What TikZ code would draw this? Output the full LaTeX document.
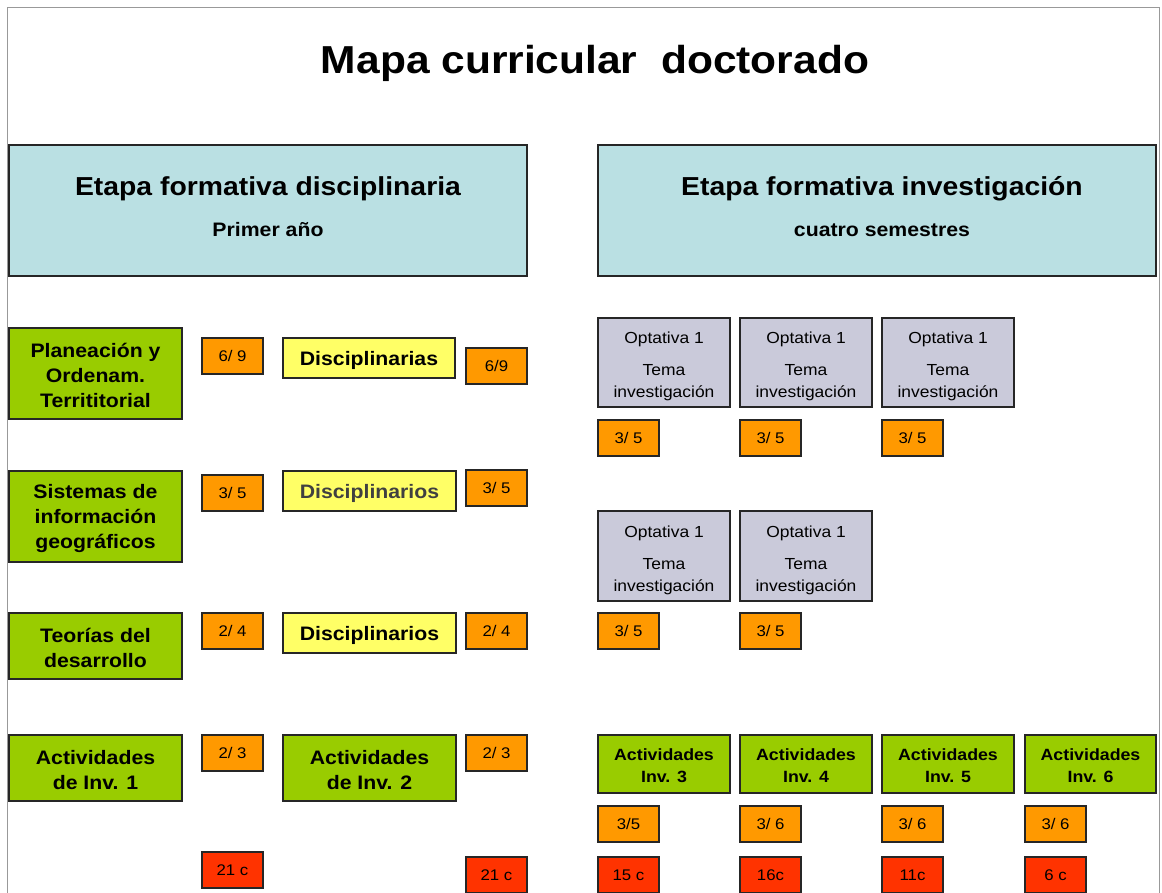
\documentclass[tikz,border=0pt]{standalone}
\usepackage{fontspec}
\setmainfont[FakeStretch=1.09]{Liberation Sans}
\definecolor{cgreen}{HTML}{99CC00}
\definecolor{corange}{HTML}{FF9900}
\definecolor{cred}{HTML}{FF3300}
\definecolor{cyellow}{HTML}{FFFF66}
\definecolor{clav}{HTML}{CACADA}
\definecolor{cblue}{HTML}{BAE0E3}
\newcommand\fsz[2]{\fontsize{#1}{#2}\selectfont}
\newcommand\mkbox[8]{\node[#1, minimum width={(#6)-(#4)}, minimum height={(#7)-(#5)}] (#3) at ({((#4)+(#6))/2},{((#5)+(#7))/2}) {};
  \node[lbl, #2] (#3-t) at (#3.center) {#8};}
\tikzset{
  base/.style={draw=black!85, line width=1.3pt, inner sep=0pt},
  lbl/.style={inner sep=0pt, align=center},
  hdrbox/.style={base, fill=cblue},
  grnbox/.style={base, fill=cgreen},
  yelbox/.style={base, fill=cyellow},
  orbox/.style={base, fill=corange},
  redbox/.style={base, fill=cred},
  optbox/.style={base, fill=clav},
  grnT/.style={font=\bfseries\fsz{19.5}{25}, yshift=-2},
  grnsmT/.style={font=\bfseries\fsz{16.3}{22}, yshift=-2},
  yelT/.style={font=\bfseries\fsz{19.5}{24}, yshift=-2},
  smallT/.style={font=\fsz{15.4}{18}},
  optT/.style={font=\fsz{16}{22}, yshift=-4},
  txt/.style={anchor=base, inner sep=0pt}
}
\begin{document}
\begin{tikzpicture}[x=1pt,y=-1pt]
\useasboundingbox (0,0) rectangle (1162,892);
\clip (0,0) rectangle (1162,892);
\fill[white] (0,0) rectangle (1162,892);
% frame
\coordinate (f1) at (7.5,895);
\coordinate (f2) at (7.5,7.5);
\coordinate (f3) at (1159.5,7.5);
\coordinate (f4) at (1159.5,895);
\draw[black!40, line width=1.5pt] (f1) -- (f2) -- (f3) -- (f4);
% title
\node[txt, font=\bfseries\fsz{39}{46}] (title) at (595,73) {Mapa curricular\ \ doctorado};
% headers
\mkbox{hdrbox}{}{hdrL}{9}{145}{527}{276}{}
\mkbox{hdrbox}{}{hdrR}{598}{145}{1156}{276}{}
\node[txt, font=\bfseries\fsz{26}{30}] (hdrLt) at (268,195) {Etapa formativa disciplinaria};
\node[txt, font=\bfseries\fsz{19.5}{24}] (hdrLs) at (268,236.5) {Primer año};
\node[txt, font=\bfseries\fsz{26}{30}] (hdrRt) at (882,195) {Etapa formativa investigación};
\node[txt, font=\bfseries\fsz{19.5}{24}] (hdrRs) at (882,236.5) {cuatro semestres};
% left column
\mkbox{grnbox}{grnT}{g1}{9}{328}{182}{419}{Planeación y\\Ordenam.\\Territitorial}
\mkbox{grnbox}{grnT}{g2}{9}{471}{182}{562}{Sistemas de\\información\\geográficos}
\mkbox{grnbox}{grnT}{g3}{9}{613}{182}{679}{Teorías del\\desarrollo}
\mkbox{grnbox}{grnT}{g4}{9}{735}{182}{801}{Actividades\\de Inv. 1}
\mkbox{orbox}{smallT}{o1}{202}{338}{263}{374}{6/ 9}
\mkbox{orbox}{smallT}{o2}{202}{475}{263}{511}{3/ 5}
\mkbox{orbox}{smallT}{o3}{202}{613}{263}{649}{2/ 4}
\mkbox{orbox}{smallT}{o4}{202}{735}{263}{771}{2/ 3}
\mkbox{redbox}{smallT}{r1}{202}{852}{263}{888}{21 c}
\mkbox{yelbox}{yelT}{y1}{283}{338}{455}{378}{Disciplinarias}
\mkbox{yelbox}{yelT, text=black!75}{y2}{283}{471}{456}{511}{Disciplinarios}
\mkbox{yelbox}{yelT}{y3}{283}{613}{456}{653}{Disciplinarios}
\mkbox{grnbox}{grnT}{g5}{283}{735}{456}{801}{Actividades\\de Inv. 2}
\mkbox{orbox}{smallT}{o5}{466}{348}{527}{384}{6/9}
\mkbox{orbox}{smallT}{o6}{466}{470}{527}{506}{3/ 5}
\mkbox{orbox}{smallT}{o7}{466}{613}{527}{649}{2/ 4}
\mkbox{orbox}{smallT}{o8}{466}{735}{527}{771}{2/ 3}
\mkbox{redbox}{smallT}{r2}{466}{857}{527}{893}{21 c}
% right side optativas
\mkbox{optbox}{optT}{p1}{598}{318}{730}{407}{Optativa 1\\[10pt]Tema\\investigación}
\mkbox{optbox}{optT}{p2}{740}{318}{872}{407}{Optativa 1\\[10pt]Tema\\investigación}
\mkbox{optbox}{optT}{p3}{882}{318}{1014}{407}{Optativa 1\\[10pt]Tema\\investigación}
\mkbox{orbox}{smallT}{q1}{598}{420}{659}{456}{3/ 5}
\mkbox{orbox}{smallT}{q2}{740}{420}{801}{456}{3/ 5}
\mkbox{orbox}{smallT}{q3}{882}{420}{943}{456}{3/ 5}
\mkbox{optbox}{optT}{p4}{598}{511}{730}{601}{Optativa 1\\[10pt]Tema\\investigación}
\mkbox{optbox}{optT}{p5}{740}{511}{872}{601}{Optativa 1\\[10pt]Tema\\investigación}
\mkbox{orbox}{smallT}{q4}{598}{613}{659}{649}{3/ 5}
\mkbox{orbox}{smallT}{q5}{740}{613}{801}{649}{3/ 5}
% actividades 3-6
\mkbox{grnbox}{grnsmT}{a3}{598}{735}{730}{793}{Actividades\\Inv. 3}
\mkbox{grnbox}{grnsmT}{a4}{740}{735}{872}{793}{Actividades\\Inv. 4}
\mkbox{grnbox}{grnsmT}{a5}{882}{735}{1014}{793}{Actividades\\Inv. 5}
\mkbox{grnbox}{grnsmT}{a6}{1025}{735}{1156}{793}{Actividades\\Inv. 6}
\mkbox{orbox}{smallT}{s3}{598}{806}{659}{842}{3/5}
\mkbox{orbox}{smallT}{s4}{740}{806}{801}{842}{3/ 6}
\mkbox{orbox}{smallT}{s5}{882}{806}{943}{842}{3/ 6}
\mkbox{orbox}{smallT}{s6}{1025}{806}{1086}{842}{3/ 6}
\mkbox{redbox}{smallT}{t3}{598}{857}{659}{893}{15 c}
\mkbox{redbox}{smallT}{t4}{740}{857}{801}{893}{16c}
\mkbox{redbox}{smallT}{t5}{882}{857}{943}{893}{11c}
\mkbox{redbox}{smallT}{t6}{1025}{857}{1086}{893}{6 c}
\end{tikzpicture}
\end{document}
